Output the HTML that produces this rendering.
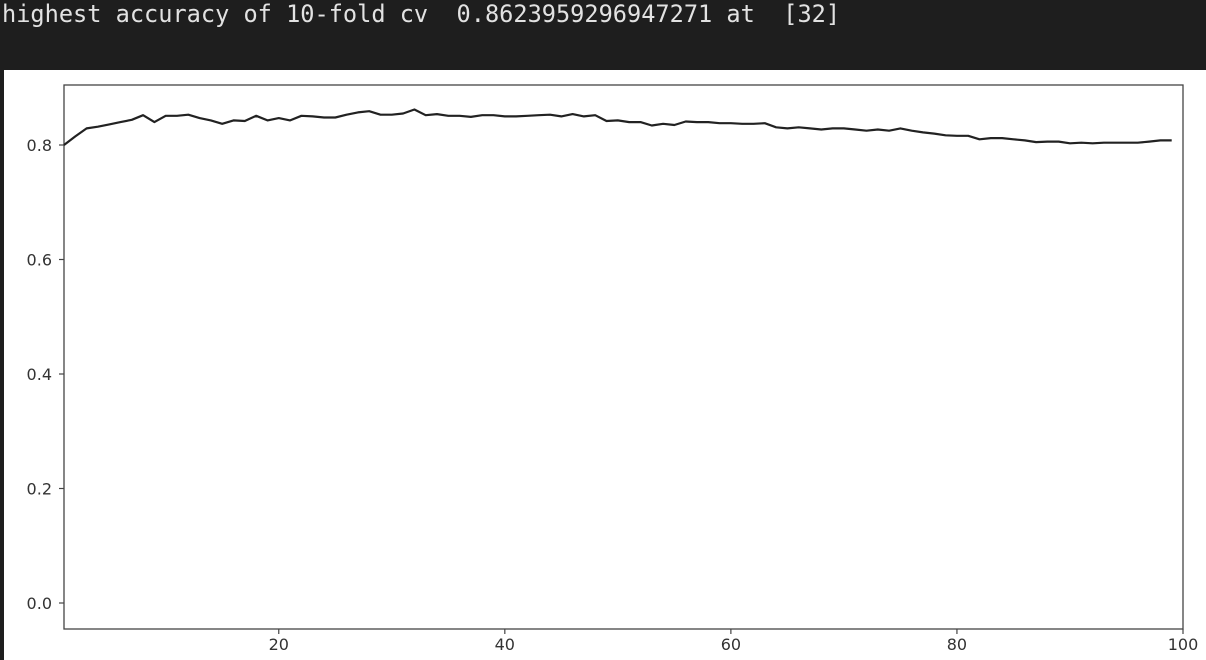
<!DOCTYPE html>
<html><head><meta charset="utf-8"><style>
body{margin:0;width:1206px;height:660px;background:#fff;overflow:hidden;position:relative;font-family:"DejaVu Sans","Liberation Sans",sans-serif}
#hdr{position:absolute;left:0;top:0;width:1206px;height:70px;background:#1e1e1e}
#hdr span{position:absolute;left:2px;top:0px;font-family:"DejaVu Sans Mono","Liberation Mono",monospace;font-size:23.6px;color:#e2e2e2;white-space:pre}
#lb{position:absolute;left:0;top:70px;width:4px;height:590px;background:#1e1e1e}
svg{position:absolute;left:0;top:0}
</style></head><body>
<div id="hdr"><span>highest accuracy of 10-fold cv  0.8623959296947271 at  [32]</span></div>
<div id="lb"></div>
<svg id="c" width="1206" height="660"></svg>
<script>
const xValues=[];for(let i=1;i<=99;i++)xValues.push(i);
const accuracy=[0.800,0.815,0.829,0.832,0.836,0.840,0.844,0.852,0.840,0.851,0.851,0.853,0.847,0.843,0.837,0.843,0.842,0.851,0.843,0.847,0.843,0.851,0.850,0.848,0.848,0.853,0.857,0.859,0.853,0.853,0.855,0.862,0.852,0.854,0.851,0.851,0.849,0.852,0.852,0.850,0.850,0.851,0.852,0.853,0.850,0.854,0.850,0.852,0.842,0.843,0.840,0.840,0.834,0.837,0.835,0.841,0.840,0.840,0.838,0.838,0.837,0.837,0.838,0.831,0.829,0.831,0.829,0.827,0.829,0.829,0.827,0.825,0.827,0.825,0.829,0.825,0.822,0.820,0.817,0.816,0.816,0.810,0.812,0.812,0.810,0.808,0.805,0.806,0.806,0.803,0.804,0.803,0.804,0.804,0.804,0.804,0.806,0.808,0.808];
const xTicks=[20,40,60,80,100];
const yTicks=[0.0,0.2,0.4,0.6,0.8];
const yTickLabels=["0.0","0.2","0.4","0.6","0.8"];
const NS="http://www.w3.org/2000/svg";
const svg=document.getElementById('c');
const L=64,R=1183,T=85,B=629;
const sx=v=>L+(v-1)*(R-L)/99;
const sy=v=>603-v*(603-145)/0.8;
function mk(t,a){const e=document.createElementNS(NS,t);for(const k in a)e.setAttribute(k,a[k]);svg.appendChild(e);return e;}
const frame=mk('rect',{x:L,y:T,width:R-L,height:B-T,fill:'none',stroke:'#444','stroke-width':1.3});


xTicks.forEach(v=>{
  const t=mk('line',{x1:sx(v),x2:sx(v),y1:B,y2:B+5,stroke:'#444','stroke-width':1.2});
  
  
  const l=mk('text',{x:sx(v),y:B+21,'text-anchor':'middle','font-size':16,fill:'#333'});
  l.textContent=v;
  
  
});
yTicks.forEach((v,i)=>{
  const t=mk('line',{x1:L-5,x2:L,y1:sy(v),y2:sy(v),stroke:'#444','stroke-width':1.2});
  
  
  const l=mk('text',{x:L-12,y:sy(v)+6,'text-anchor':'end','font-size':16,fill:'#333'});
  l.textContent=yTickLabels[i];
  
  
});
const d=accuracy.map((v,i)=>(i?'L':'M')+sx(xValues[i]).toFixed(1)+','+sy(v).toFixed(1)).join('');
const p=mk('path',{d:d,fill:'none',stroke:'#222','stroke-width':2.2,'stroke-linejoin':'round'});


</script>
</body></html>
